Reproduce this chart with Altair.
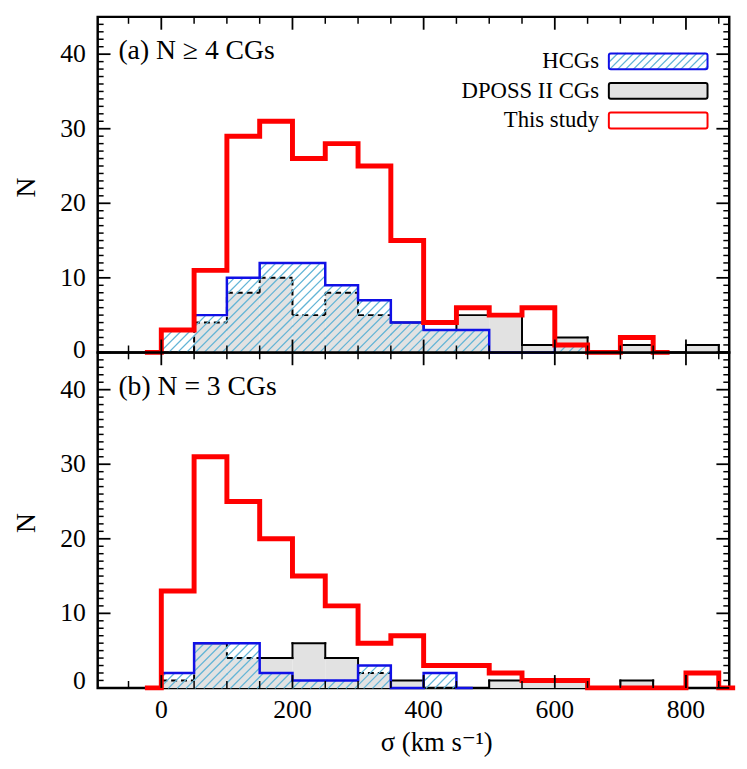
import altair as alt
import numpy as np
import pandas as pd

# ---------------- data ----------------
BIN = 50  # km/s, first bin starts at 0
red_a   = [3, 11, 29, 31, 26, 28, 25, 15, 4, 6, 5, 6, 1, 0, 2]
hcg_a   = [3, 5, 10, 12, 12, 9, 7, 4, 3, 3, 0, 0, 1]
dposs_a = [0, 4, 8, 10, 5, 8, 5, 4, 3, 5, 5, 1, 2, 0, 1, 0, 1]
red_b   = [13, 31, 25, 20, 15, 11, 6, 7, 3, 3, 2, 1, 1, 0, 0, 0, 2]
hcg_b   = [2, 6, 6, 2, 1, 1, 3, 0, 2]
dposs_b = [1, 6, 4, 4, 6, 4, 2, 1, 0, 0, 1, 1, 1, 0, 1]

panel_labels  = ["(a) N \u2265 4 CGs", "(b) N = 3 CGs"]
legend_labels = ["HCGs", "DPOSS II CGs", "This study"]
x_tick_labels = [0, 200, 400, 600, 800]
y_tick_labels = [0, 10, 20, 30, 40]
x_minor = [v for v in range(-50, 851, 50) if v % 200 != 0]
y_minor = [v for v in range(0, 46) if v % 10 != 0]
x_title = "\u03c3 (km s\u207b\u00b9)"
y_title = "N"

# ---------------- layout / style ----------------
W, H = 640, 340
XMIN = -97
SX = 0.6646
XMAX = XMIN + W / SX
YMIN, YMAX = 0, 45
SY = H / (YMAX - YMIN)
FONT = "Liberation Serif, DejaVu Serif, serif"
RED, BLUE, BLACK = "#ff0000", "#1010e6", "#000000"
HATCH, GRAY = "#62b4d6", "#e2e2e2"

xs = alt.Scale(domain=[XMIN, XMAX], nice=False, zero=False)
ys = alt.Scale(domain=[YMIN, YMAX], nice=False, zero=False)


def step_df(vals):
    n = len(vals)
    xv = [-BIN / 2] + [i * BIN for i in range(n)] + [n * BIN, n * BIN + BIN / 2]
    yv = [0] + list(vals) + [0, 0]
    return pd.DataFrame({"x": xv, "y": yv})


def fill_df(vals):
    rows = [dict(x0=i * BIN, x1=(i + 1) * BIN, y0=0, y1=v) for i, v in enumerate(vals) if v > 0]
    return pd.DataFrame(rows)


def outline_segments(d, h):
    n = len(d)
    hh = list(h) + [0] * (n + 2)
    dd = list(d) + [0]
    solid, dashed = [], []
    for i in range(n):
        if dd[i] > 0:
            seg = dict(x0=i * BIN, x1=(i + 1) * BIN, y0=dd[i], y1=dd[i])
            (dashed if dd[i] < hh[i] else solid).append(seg)
    for k in range(n + 1):
        a = dd[k - 1] if k > 0 else 0
        b = dd[k]
        if a != b:
            lo, hi = min(a, b), max(a, b)
            env = max(hh[k - 1] if k > 0 else 0, hh[k])
            seg = dict(x0=k * BIN, x1=k * BIN, y0=lo, y1=hi)
            (dashed if hi <= env else solid).append(seg)
    cols = ["x0", "x1", "y0", "y1"]
    return pd.DataFrame(solid, columns=cols), pd.DataFrame(dashed, columns=cols)


def hatch_px(X0, X1, Y0, Y1, gap):
    rows = []
    c = np.floor((X0 - Y1) / gap) * gap
    while c < X1 - Y0:
        xa = max(X0, c + Y0)
        xb = min(X1, c + Y1)
        if xb - xa > 0.3:
            rows.append(dict(x0=xa / SX + XMIN, y0=(xa - c) / SY + YMIN,
                             x1=xb / SX + XMIN, y1=(xb - c) / SY + YMIN))
        c += gap
    return rows


def hatch_df(vals, gap=9.0):
    rows = []
    for i, v in enumerate(vals):
        if v > 0:
            rows += hatch_px((i * BIN - XMIN) * SX, ((i + 1) * BIN - XMIN) * SX, 0, v * SY, gap)
    return pd.DataFrame(rows)


def rules(df, color, width, dash=None):
    kw = dict(color=color, strokeWidth=width, strokeCap="square")
    if dash:
        kw["strokeDash"] = dash
        kw["strokeCap"] = "butt"
    return alt.Chart(df).mark_rule(**kw).encode(
        x=alt.X("x0:Q", scale=xs, axis=None), x2="x1:Q",
        y=alt.Y("y0:Q", scale=ys, axis=None), y2="y1:Q")


def step_line(vals, color, width):
    return alt.Chart(step_df(vals)).mark_line(
        interpolate="step-after", color=color, strokeWidth=width, strokeJoin="miter"
    ).encode(x=alt.X("x:Q", scale=xs, axis=None), y=alt.Y("y:Q", scale=ys, axis=None))


def tick_layers():
    out = []
    for vals, L, w in [(x_tick_labels, 13, 1.8), (x_minor, 7, 1.5)]:
        d = pd.DataFrame({"v": vals})
        for y0, y1 in [(0, L), (H - L, H)]:
            out.append(alt.Chart(d).mark_rule(color="black", strokeWidth=w).encode(
                x=alt.X("v:Q", scale=xs, axis=None), y=alt.value(y0), y2=alt.value(y1)))
    for vals, L, w in [(y_tick_labels, 13, 1.8), (y_minor, 6, 1.5)]:
        d = pd.DataFrame({"v": vals})
        for x0, x1 in [(0, L), (W - L, W)]:
            out.append(alt.Chart(d).mark_rule(color="black", strokeWidth=w).encode(
                y=alt.Y("v:Q", scale=ys, axis=None), x=alt.value(x0), x2=alt.value(x1)))
    return out


def text_at(s, x, y, size, align="center", angle=0):
    kw = dict(align=align, baseline="middle", font=FONT, fontSize=size, color="black")
    if angle:
        kw["angle"] = angle
    return alt.Chart(pd.DataFrame({"t": [s]})).mark_text(**kw).encode(
        text="t:N", x=alt.value(x), y=alt.value(y))


def anchor(x, y):
    # invisible point that fixes the outer extent of the drawing
    return alt.Chart(pd.DataFrame({"t": [0]})).mark_rule(opacity=0, strokeWidth=0.01).encode(
        x=alt.value(x), x2=alt.value(x), y=alt.value(y), y2=alt.value(y))


def y_label_layers(bottom):
    out = []
    groups = [(y_tick_labels[:1], -7 if bottom else -2), (y_tick_labels[1:], 0)]
    for vals, dy in groups:
        kw = dict(align="right", baseline="middle", font=FONT, fontSize=26, color="black")
        if dy:
            kw["dy"] = dy
        out.append(alt.Chart(pd.DataFrame({"v": vals})).mark_text(**kw).encode(
            y=alt.Y("v:Q", scale=ys, axis=None), x=alt.value(-12),
            text=alt.Text("v:Q", format="d")))
    return out


def panel(red, hcg, dposs, label, bottom):
    fill = alt.Chart(fill_df(dposs)).mark_rect(color=GRAY, strokeWidth=0).encode(
        x=alt.X("x0:Q", scale=xs, axis=None), x2="x1:Q",
        y=alt.Y("y0:Q", scale=ys, axis=None), y2="y1:Q")
    solid, dashed = outline_segments(dposs, hcg)
    layers = [fill, rules(solid, BLACK, 2)]
    if len(dashed):
        layers.append(rules(dashed, BLACK, 2, [6, 4]))
    layers.append(rules(hatch_df(hcg), HATCH, 1.3))
    layers.append(step_line(hcg, BLUE, 2.5))
    layers.append(step_line(red, RED, 5))
    layers += tick_layers()
    layers.append(text_at(label, 21, 35, 28, align="left"))
    layers += y_label_layers(bottom)
    layers.append(text_at(y_title, -72, H / 2 + 3, 28, angle=270))
    if bottom:
        layers.append(alt.Chart(pd.DataFrame({"v": x_tick_labels})).mark_text(
            align="center", baseline="middle", font=FONT, fontSize=26, color="black"
        ).encode(x=alt.X("v:Q", scale=xs, axis=None), y=alt.value(H + 23),
                 text=alt.Text("v:Q", format="d")))
        layers.append(text_at(x_title, (-XMIN + 420) * SX, H + 56, 27))
        layers.append(anchor(-97, H + 70))
    else:
        layers.append(anchor(-97, -10))
    return layers


def legend_layers():
    out = []
    rows_y = [45, 75, 105]
    bx0, bx1, bh = 518, 618, 16
    styles = [("white", BLUE), (GRAY, BLACK), ("white", RED)]
    for k, (lab, yc, (fc, sc)) in enumerate(zip(legend_labels, rows_y, styles)):
        out.append(text_at(lab, bx0 - 10, yc, 23, align="right"))
        out.append(alt.Chart(pd.DataFrame({"t": [lab]})).mark_rect(
            fill=fc, strokeWidth=0).encode(
            x=alt.value(bx0), x2=alt.value(bx1), y=alt.value(yc - bh / 2), y2=alt.value(yc + bh / 2)))
        if k == 0:
            hd = pd.DataFrame(hatch_px(bx0, bx1, H - (yc + bh / 2), H - (yc - bh / 2), 8.0))
            out.append(rules(hd, HATCH, 1.3))
        out.append(alt.Chart(pd.DataFrame({"t": [lab]})).mark_rect(
            fill=None, fillOpacity=0, stroke=sc, strokeWidth=2, cornerRadius=2).encode(
            x=alt.value(bx0), x2=alt.value(bx1), y=alt.value(yc - bh / 2), y2=alt.value(yc + bh / 2)))
    return out


top = alt.layer(*(panel(red_a, hcg_a, dposs_a, panel_labels[0], False) + legend_layers())) \
    .properties(width=W, height=H)
bot = alt.layer(*panel(red_b, hcg_b, dposs_b, panel_labels[1], True)) \
    .properties(width=W, height=H)

chart = alt.vconcat(top, bot, spacing=0, bounds="flush").properties(
    padding={"left": 0, "top": 0, "right": 0, "bottom": 0},
    background="white",
).configure_view(stroke="black", strokeWidth=2.5)

chart.save("out.html", embed_options={"renderer": "svg", "actions": False})
